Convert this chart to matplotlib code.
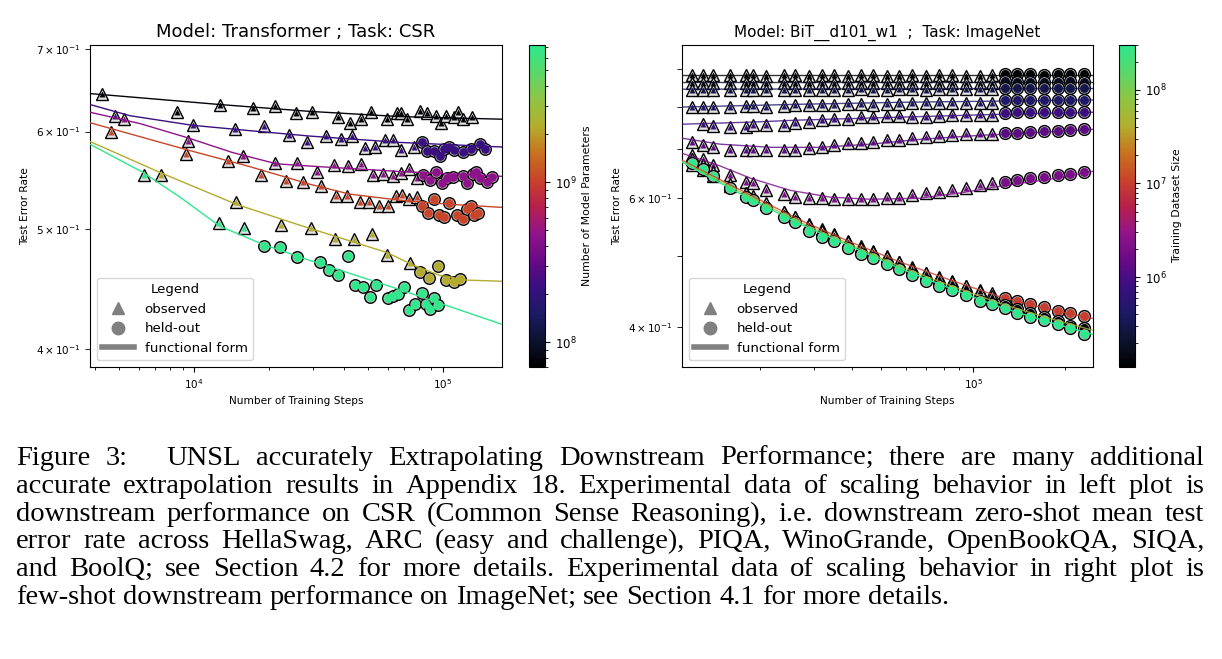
import matplotlib
matplotlib.use("Agg")
import matplotlib.pyplot as plt
from matplotlib.colors import LinearSegmentedColormap, LogNorm
from matplotlib.cm import ScalarMappable
from matplotlib.lines import Line2D

# colour map
cmap_colors = ['#000000', '#0d1330', '#1c1a66', '#3b0f80', '#6a0a86', '#92148a',
               '#b8204a', '#c9442a', '#c8741f', '#b3ae2e', '#8fc544', '#5ad86a', '#2ee88e']

# ---------------- left panel: Transformer / CSR (colour = model parameters)
csr_params = [7.5e7, 2.2e8, 4.6e8, 1.05e9, 2.2e9, 7.0e9]

black_obs_steps = [4270, 8540, 12700, 17300, 21200, 25700, 29800, 37900, 42300, 46900, 51400, 59600,
                   65400, 67800, 71700, 80800, 86300, 93700, 98200, 102800, 110700, 114800, 120300, 130800]
black_obs_err = [0.643, 0.622, 0.630, 0.627, 0.629, 0.621, 0.622, 0.617, 0.610, 0.614, 0.622, 0.614,
                 0.621, 0.621, 0.614, 0.623, 0.621, 0.618, 0.610, 0.618, 0.617, 0.622, 0.614, 0.617]
black_fit_steps = [3820, 6660, 12700, 29200, 67200, 173000]
black_fit_err = [0.644, 0.638, 0.631, 0.623, 0.617, 0.614]

navy_obs_steps = [4820, 9900, 14600, 19100, 24100, 28400, 33900, 38900, 43100, 48600, 53300, 58500,
                  63000, 67800, 76500]
navy_obs_err = [0.618, 0.607, 0.603, 0.606, 0.596, 0.589, 0.595, 0.592, 0.595, 0.582, 0.583, 0.591,
                0.591, 0.580, 0.583]
navy_held_steps = [82400, 86300, 92000, 97300, 101000, 105700, 110700, 120300, 129600, 140800, 147500]
navy_held_err = [0.588, 0.579, 0.579, 0.573, 0.581, 0.583, 0.580, 0.578, 0.581, 0.586, 0.581]
navy_fit_steps = [3820, 5530, 9900, 16800, 29200, 67200, 173000]
navy_fit_err = [0.631, 0.618, 0.607, 0.601, 0.595, 0.588, 0.583]

magenta_obs_steps = [5240, 9460, 15700, 21200, 25900, 31200, 36500, 41500, 46900, 52300, 57400, 63000,
                     67800, 73000, 78600]
magenta_obs_err = [0.614, 0.590, 0.573, 0.566, 0.566, 0.556, 0.564, 0.563, 0.565, 0.553, 0.554, 0.552,
                   0.555, 0.560, 0.550]
magenta_held_steps = [83100, 88700, 93700, 99100, 103800, 109700, 120300, 124800, 132000, 135700,
                      140800, 150200, 157400]
magenta_held_err = [0.553, 0.548, 0.556, 0.545, 0.550, 0.551, 0.552, 0.545, 0.554, 0.556, 0.550,
                    0.546, 0.551]
magenta_fit_steps = [3820, 6070, 9460, 14300, 21500, 32100, 67200, 173000]
magenta_fit_err = [0.622, 0.609, 0.593, 0.577, 0.565, 0.562, 0.557, 0.552]

red_obs_steps = [4640, 9290, 13700, 18600, 23400, 27400, 32400, 37200, 41200, 46400, 50400, 55300,
                 60100, 64800, 68500, 73000, 78600]
red_obs_err = [0.600, 0.575, 0.568, 0.553, 0.547, 0.546, 0.542, 0.532, 0.532, 0.526, 0.526, 0.522,
               0.522, 0.532, 0.533, 0.529, 0.531]
red_held_steps = [82400, 87000, 92000, 96400, 101000, 105700, 113800, 120300, 124800, 129600, 133300, 138200]
red_held_err = [0.522, 0.516, 0.529, 0.514, 0.512, 0.525, 0.514, 0.510, 0.519, 0.522, 0.514, 0.516]
red_fit_steps = [3820, 9370, 16800, 29200, 42300, 67200, 106700, 173000]
red_fit_err = [0.610, 0.580, 0.562, 0.544, 0.534, 0.528, 0.524, 0.521]

olive_obs_steps = [7370, 14800, 22400, 29500, 36800, 43900, 51900, 59600, 73700]
olive_obs_err = [0.553, 0.526, 0.504, 0.501, 0.491, 0.491, 0.496, 0.477, 0.470]
olive_held_steps = [80800, 87900, 95500, 102800, 110700, 117000]
olive_held_err = [0.462, 0.457, 0.467, 0.455, 0.453, 0.456]
olive_fit_steps = [3820, 7300, 14800, 26600, 59600, 75800, 97300, 124800, 173000]
olive_fit_err = [0.589, 0.556, 0.524, 0.504, 0.479, 0.468, 0.459, 0.455, 0.454]

mint_obs_steps = [6300, 12600, 15900]
mint_obs_err = [0.553, 0.506, 0.501]
mint_held_steps = [19100, 22200, 25900, 32100, 34900, 37900, 41500, 44300, 47700, 50900, 53800, 60100,
                   63000, 66000, 69700, 73000, 77200, 82400, 85500, 88700, 92000, 95500]
mint_held_err = [0.485, 0.484, 0.475, 0.471, 0.464, 0.459, 0.476, 0.451, 0.449, 0.441, 0.451, 0.440,
                 0.442, 0.443, 0.449, 0.430, 0.435, 0.444, 0.435, 0.431, 0.440, 0.434]
mint_fit_steps = [3820, 6240, 8790, 12700, 19100, 29200, 67200, 173000]
mint_fit_err = [0.586, 0.556, 0.531, 0.503, 0.486, 0.472, 0.447, 0.419]

# ---------------- right panel: BiT / ImageNet (colour = training dataset size)
inet_obs_steps = [12000, 13000, 14000, 16000, 18000, 19000, 21000, 24000, 26000, 29000, 32000, 35000,
                  39000, 43000, 47000, 52000, 57000, 63000, 70000, 77000, 85000, 95000, 105000, 115000]
inet_held_steps = [127000, 139000, 154000, 170000, 189000, 208000, 230000]
inet_sizes = [1.2e5, 1.6e5, 3.0e5, 4.5e5, 8.0e5, 1.3e6, 2.0e6, 1.0e7, 5.0e7, 1.2e5, 3.0e8]

r1_obs = [0.883, 0.884, 0.883, 0.883, 0.884, 0.883, 0.882, 0.883, 0.883, 0.882, 0.883, 0.883,
          0.882, 0.883, 0.883, 0.882, 0.882, 0.883, 0.882, 0.883, 0.883, 0.882, 0.882, 0.883]
r1_held = [0.886, 0.886, 0.886, 0.885, 0.886, 0.886, 0.886]
r1_fit_steps = [11100, 50000, 247000]
r1_fit = [0.885, 0.885, 0.885]

r2_obs = [0.862, 0.863, 0.862, 0.863, 0.862, 0.863, 0.862, 0.862, 0.863, 0.862, 0.862, 0.863,
          0.862, 0.862, 0.862, 0.863, 0.862, 0.862, 0.863, 0.862, 0.862, 0.862, 0.863, 0.862]
r2_held = [0.866, 0.865, 0.865, 0.865, 0.865, 0.866, 0.865]
r2_fit_steps = [11100, 50000, 247000]
r2_fit = [0.864, 0.864, 0.864]

r3_obs = [0.843, 0.844, 0.843, 0.843, 0.844, 0.843, 0.843, 0.844, 0.844, 0.843, 0.844, 0.844,
          0.844, 0.845, 0.844, 0.844, 0.845, 0.845, 0.844, 0.845, 0.845, 0.845, 0.845, 0.845]
r3_held = [0.847, 0.847, 0.847, 0.847, 0.848, 0.847, 0.847]
r3_fit_steps = [11100, 50000, 247000]
r3_fit = [0.845, 0.846, 0.847]

r4_obs = [0.799, 0.799, 0.798, 0.799, 0.801, 0.801, 0.800, 0.801, 0.804, 0.803, 0.804, 0.804,
          0.806, 0.806, 0.805, 0.806, 0.806, 0.809, 0.808, 0.809, 0.809, 0.810, 0.809, 0.809]
r4_held = [0.816, 0.816, 0.817, 0.817, 0.817, 0.817, 0.818]
r4_fit_steps = [11100, 27100, 57600, 247000]
r4_fit = [0.799, 0.806, 0.811, 0.817]

r5_obs = [0.757, 0.752, 0.750, 0.750, 0.755, 0.755, 0.755, 0.760, 0.762, 0.767, 0.769, 0.769,
          0.774, 0.774, 0.776, 0.776, 0.774, 0.774, 0.776, 0.779, 0.779, 0.779, 0.779]
r5_held = [0.785, 0.786, 0.786, 0.786, 0.787, 0.787, 0.787]
r5_fit_steps = [11100, 18600, 27100, 57600, 122600, 247000]
r5_fit = [0.757, 0.762, 0.767, 0.774, 0.781, 0.786]

r6_obs = [0.715, 0.709, 0.704, 0.698, 0.698, 0.698, 0.698, 0.698, 0.698, 0.702, 0.704, 0.709,
          0.713, 0.713, 0.715, 0.720, 0.720, 0.725, 0.727, 0.729, 0.731, 0.734, 0.734, 0.734]
r6_held = [0.736, 0.736, 0.738, 0.741, 0.741, 0.743, 0.745]
r6_fit_steps = [11100, 14800, 21600, 31500, 46000, 67000, 105400, 165900, 247400]
r6_fit = [0.7245, 0.711, 0.704, 0.704, 0.711, 0.722, 0.731, 0.738, 0.745]

r7_obs = [0.687, 0.678, 0.666, 0.645, 0.631, 0.629, 0.615, 0.608, 0.602, 0.600, 0.600, 0.598,
          0.598, 0.598, 0.598, 0.600, 0.600, 0.606, 0.610, 0.611, 0.615, 0.619, 0.625, 0.629]
r7_held = [0.631, 0.635, 0.639, 0.641, 0.645, 0.647, 0.651]
r7_fit_steps = [11100, 14800, 18600, 25100, 34000, 46000, 67000, 90700, 122600, 178900, 247400]
r7_fit = [0.691, 0.664, 0.639, 0.615, 0.602, 0.598, 0.600, 0.610, 0.623, 0.637, 0.653]

orange_obs = [0.666, 0.655, 0.643, 0.623, 0.610, 0.602, 0.589, 0.574, 0.565, 0.553, 0.544, 0.536,
              0.524, 0.516, 0.508, 0.500, 0.491, 0.483, 0.475, 0.469, 0.462, 0.456, 0.449, 0.445]
orange_held = [0.438, 0.434, 0.430, 0.426, 0.421, 0.418, 0.414]
low_fit_steps = [11100, 18600, 27100, 39500, 57600, 84100, 122600, 178900, 247400]
orange_fit = [0.676, 0.606, 0.560, 0.523, 0.491, 0.464, 0.440, 0.423, 0.411]
yellow_fit = [0.674, 0.602, 0.556, 0.519, 0.484, 0.456, 0.431, 0.411, 0.396]

dark_obs = [0.678, 0.666, 0.651, 0.627, 0.610, 0.604, 0.591, 0.574, 0.565, 0.551, 0.541, 0.534,
            0.523, 0.513, 0.506, 0.498, 0.491, 0.481, 0.474, 0.467, 0.461, 0.455, 0.448, 0.441]
dark_held = [0.429, 0.423, 0.418, 0.413, 0.408, 0.402, 0.399]

green_all = [0.670, 0.657, 0.643, 0.619, 0.602, 0.596, 0.581, 0.565, 0.556, 0.541, 0.531, 0.524,
             0.513, 0.503, 0.497, 0.488, 0.480, 0.471, 0.462, 0.456, 0.449, 0.442, 0.435, 0.430,
             0.425, 0.418, 0.413, 0.409, 0.404, 0.399, 0.392]
green_fit = [0.672, 0.598, 0.553, 0.516, 0.481, 0.452, 0.426, 0.406, 0.391]

caption_lines = [
    "Figure 3: UNSL accurately Extrapolating Downstream Performance; there are many additional",
    "accurate extrapolation results in Appendix 18. Experimental data of scaling behavior in left plot is",
    "downstream performance on CSR (Common Sense Reasoning), i.e. downstream zero-shot mean test",
    "error rate across HellaSwag, ARC (easy and challenge), PIQA, WinoGrande, OpenBookQA, SIQA,",
    "and BoolQ; see Section 4.2 for more details. Experimental data of scaling behavior in right plot is",
    "few-shot downstream performance on ImageNet; see Section 4.1 for more details.",
]

cmap = LinearSegmentedColormap.from_list('unsl', cmap_colors)
W, H = 1222, 659
fig = plt.figure(figsize=(W / 100, H / 100), dpi=100)


def panel(x0, x1):
    return [x0 / W, 1 - 367 / H, (x1 - x0) / W, 322 / H]


ax1 = fig.add_axes(panel(90, 502))
cax1 = fig.add_axes(panel(529, 545))
ax2 = fig.add_axes(panel(682, 1093))
cax2 = fig.add_axes(panel(1119, 1135))


def draw(ax, color, obs_x, obs_y, held_x, held_y, fit_x=None, fit_y=None,
         tri=(9.0, 4.2), circ=(8.3, 6.3), lalpha=1.0):
    if len(obs_x):
        ax.plot(obs_x, obs_y, ls='none', marker='^', ms=tri[0], mfc='#e2e2e2', mec='black', mew=1.0, zorder=2)
        ax.plot(obs_x, obs_y, ls='none', marker='^', ms=tri[1], mfc=color, mec='none', zorder=2)
    if len(held_x):
        ax.plot(held_x, held_y, ls='none', marker='o', ms=circ[0], mfc='#c8c8c8', mec='black', mew=1.0, zorder=2)
        ax.plot(held_x, held_y, ls='none', marker='o', ms=circ[1], mfc=color, mec='none', zorder=2)
    if fit_x is not None:
        ax.plot(fit_x, fit_y, color=color, lw=1.0, alpha=lalpha, zorder=3)


# left panel
norm1 = LogNorm(7e7, 7.2e9)
csr_series = [
    (black_obs_steps, black_obs_err, [], [], black_fit_steps, black_fit_err),
    (navy_obs_steps, navy_obs_err, navy_held_steps, navy_held_err, navy_fit_steps, navy_fit_err),
    (magenta_obs_steps, magenta_obs_err, magenta_held_steps, magenta_held_err, magenta_fit_steps, magenta_fit_err),
    (red_obs_steps, red_obs_err, red_held_steps, red_held_err, red_fit_steps, red_fit_err),
    (olive_obs_steps, olive_obs_err, olive_held_steps, olive_held_err, olive_fit_steps, olive_fit_err),
    (mint_obs_steps, mint_obs_err, mint_held_steps, mint_held_err, mint_fit_steps, mint_fit_err),
]
for p, s in zip(csr_params, csr_series):
    draw(ax1, cmap(norm1(p)), *s)

# right panel
norm2 = LogNorm(1.1e5, 3e8)
c = [cmap(norm2(d)) for d in inet_sizes]
rows = [(r1_obs, r1_held, r1_fit_steps, r1_fit), (r2_obs, r2_held, r2_fit_steps, r2_fit),
        (r3_obs, r3_held, r3_fit_steps, r3_fit), (r4_obs, r4_held, r4_fit_steps, r4_fit),
        (r5_obs, r5_held, r5_fit_steps, r5_fit), (r6_obs, r6_held, r6_fit_steps, r6_fit),
        (r7_obs, r7_held, r7_fit_steps, r7_fit)]
small = dict(tri=(8.5, 4.0), circ=(8.5, 6.5), lalpha=0.8)
for i, (o, h, fx, fy) in enumerate(rows):
    xs = inet_obs_steps[len(inet_obs_steps) - len(o):]
    draw(ax2, c[i], xs, o, inet_held_steps, h, fx, fy, **small)
draw(ax2, c[7], inet_obs_steps, orange_obs, inet_held_steps, orange_held, low_fit_steps, orange_fit, **small)
draw(ax2, c[9], inet_obs_steps, dark_obs, inet_held_steps, dark_held, **small)
draw(ax2, c[8], [], [], [], [], low_fit_steps, yellow_fit, **small)
draw(ax2, c[10], [], [], inet_obs_steps + inet_held_steps, green_all, low_fit_steps, green_fit,
     tri=(8.5, 4.0), circ=(8.5, 6.5), lalpha=1.0)

handles = [Line2D([], [], ls='none', marker='^', ms=9, color='gray'),
           Line2D([], [], ls='none', marker='o', ms=9, color='gray'),
           Line2D([], [], color='gray', lw=4)]
labels = ['observed', 'held-out', 'functional form']

for ax in (ax1, ax2):
    ax.set_xscale('log')
    ax.set_yscale('log')
    ax.set_xlabel('Number of Training Steps', fontsize=7.6)
    ax.set_ylabel('Test Error Rate', fontsize=7.6)
    ax.tick_params(axis='both', which='both', labelsize=7.5)
    ax.tick_params(axis='y', which='minor', length=3.5)
    ax.legend(handles, labels, title='Legend', loc='lower left', fontsize=9.6,
              title_fontsize=9.6, handlelength=2.4)

ax1.set_xlim(3820, 173000)
ax1.set_ylim(0.387, 0.705)
ax1.set_yticks([0.4, 0.5, 0.6, 0.7],
               labels=[r'$\mathdefault{%d\times10^{-1}}$' % k for k in (4, 5, 6, 7)], minor=True)
ax1.set_title('Model: Transformer ; Task: CSR', fontsize=13)

ax2.set_xlim(11100, 247000)
ax2.set_ylim(0.353, 0.971)
ax2.set_yticks([0.4, 0.5, 0.6, 0.7, 0.8, 0.9],
               labels=[r'$\mathdefault{4\times10^{-1}}$', '', r'$\mathdefault{6\times10^{-1}}$', '', '', ''],
               minor=True)
ax2.set_title('Model: BiT__d101_w1  ;  Task: ImageNet', fontsize=11)

cb1 = fig.colorbar(ScalarMappable(norm=norm1, cmap=cmap), cax=cax1)
cb1.set_label('Number of Model Parameters', fontsize=7.8)
cb2 = fig.colorbar(ScalarMappable(norm=norm2, cmap=cmap), cax=cax2)
cb2.set_label('Training Dataset Size', fontsize=7.8)
for cb in (cb1, cb2):
    cb.ax.tick_params(labelsize=8.5)

# caption, justified like the paper
renderer = fig.canvas.get_renderer()
fs = 20.5
baselines = [465, 493, 521, 548, 576, 604]
left_px, right_px = 16, 1204
for i, (line, base) in enumerate(zip(caption_lines, baselines)):
    words = line.split()
    texts = [fig.text(0, 1 - base / H, w, fontsize=fs, family='Liberation Serif',
                      ha='left', va='baseline') for w in words]
    widths = [t.get_window_extent(renderer).width for t in texts]
    weights = [2.5 if w == '3:' else 1.0 for w in words[:-1]] + [0]
    if i < len(caption_lines) - 1:
        gap = (right_px - left_px - sum(widths)) / sum(weights)
    else:
        gap = 0.25 * fs * 100 / 72
    x = left_px
    for t, w, wt in zip(texts, widths, weights):
        t.set_x(x / W)
        x += w + gap * wt

fig.savefig('out.png', dpi=100)
